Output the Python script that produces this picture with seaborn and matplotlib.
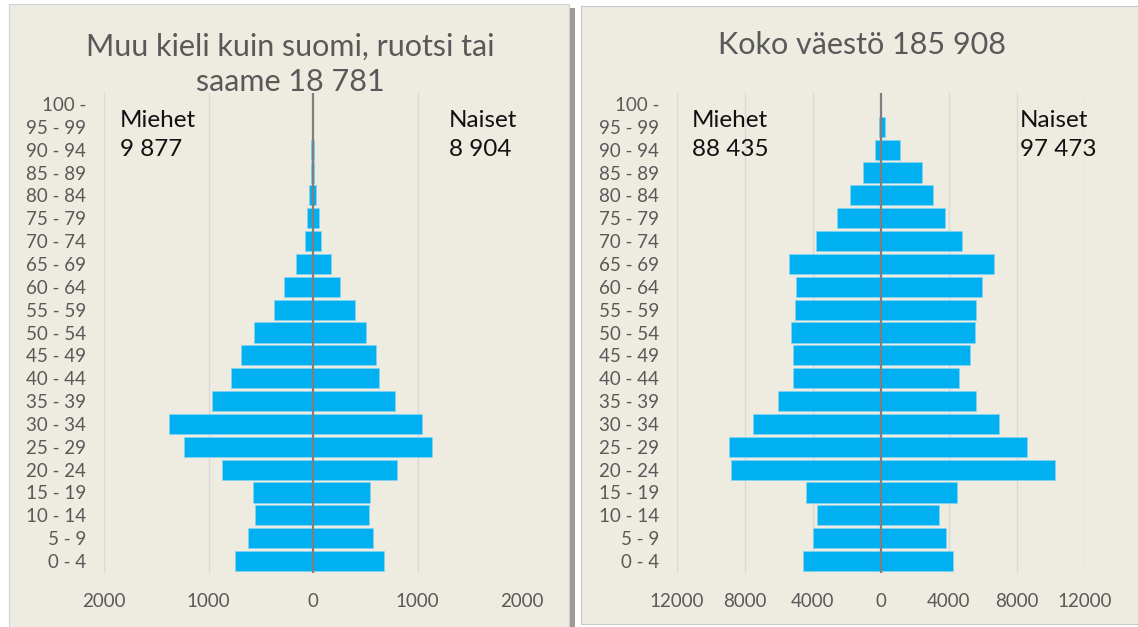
import matplotlib
matplotlib.use("Agg")
import matplotlib.pyplot as plt
import seaborn as sns
import pandas as pd
import numpy as np
from matplotlib.patches import Rectangle
from matplotlib.ticker import FuncFormatter, FixedLocator

sns.set_theme(style="white")
plt.rcParams['font.family'] = ['Lato', 'DejaVu Sans']

# ---------------- data ----------------
age_groups = ["100 -", "95 - 99", "90 - 94", "85 - 89", "80 - 84", "75 - 79",
              "70 - 74", "65 - 69", "60 - 64", "55 - 59", "50 - 54", "45 - 49",
              "40 - 44", "35 - 39", "30 - 34", "25 - 29", "20 - 24", "15 - 19",
              "10 - 14", "5 - 9", "0 - 4"]

# Other language than Finnish, Swedish or Sami
other_men = [0, 0, 15, 15, 39, 58, 77, 158, 280, 377, 567, 686, 786, 966,
             1375, 1230, 872, 572, 557, 624, 748]
other_women = [0, 0, 5, 10, 26, 61, 74, 171, 254, 399, 505, 603, 635, 786,
               1040, 1140, 805, 541, 535, 577, 682]

# Whole population
all_men = [0, 100, 352, 1035, 1797, 2598, 3848, 5391, 4981, 5040, 5274, 5196,
           5176, 6070, 7503, 8921, 8817, 4419, 3773, 4025, 4570]
all_women = [0, 254, 1133, 2403, 3086, 3750, 4785, 6641, 5958, 5567, 5528,
             5216, 4590, 5597, 6963, 8610, 10215, 4462, 3420, 3796, 4253]

titles = ["Muu kieli kuin suomi, ruotsi tai\nsaame 18 781", "Koko väestö 185 908"]
men_totals = ["9 877", "88 435"]
women_totals = ["8 904", "97 473"]
x_ticks_left = [-2000, -1000, 0, 1000, 2000]
x_ticks_right = [-12000, -8000, -4000, 0, 4000, 8000, 12000]

# ---------------- styling ----------------
W, H = 1138, 627
BLUE = "#00B0F0"
PANEL = "#EEEBE1"
GRID = "#D9D9D9"
TXT = "#595959"

fig = plt.figure(figsize=(W / 100, H / 100), dpi=100)
fig.patch.set_facecolor("white")


def px_rect(x0, y0, x1, y1, **kw):
    return Rectangle((x0 / W, 1 - y1 / H), (x1 - x0) / W, (y1 - y0) / H,
                     transform=fig.transFigure, zorder=-5, **kw)


# panel backgrounds
fig.patches.append(px_rect(9, 4, 569, 640, facecolor=PANEL, edgecolor="#D0D0D0", lw=0.8))
fig.patches.append(px_rect(570, 8, 575, 640, facecolor="#9A9A9A", edgecolor="none"))
fig.patches.append(px_rect(581, 6, 1150, 624, facecolor=PANEL, edgecolor="#C8C8C8", lw=0.8))


def make_panel(rect_px, men, women, ticks, xlim, title, title_y, title_x,
               mtot, wtot, mx, wx):
    x0, x1 = rect_px
    y0, y1 = 92.5, 572.5
    ax = fig.add_axes([x0 / W, 1 - y1 / H, (x1 - x0) / W, (y1 - y0) / H])
    ax.set_facecolor("none")
    ax.set_zorder(2)
    df = pd.DataFrame({
        "age": age_groups * 2,
        "value": [-v for v in men] + list(women),
        "sex": ["Miehet"] * len(age_groups) + ["Naiset"] * len(age_groups),
    })
    sns.barplot(data=df, x="value", y="age", hue="sex", order=age_groups,
                dodge=False, palette=[BLUE, BLUE], saturation=1, width=0.88,
                legend=False, edgecolor="#8AD6F3", linewidth=0.4, ax=ax,
                zorder=3)
    ax.set_xlim(*xlim)
    ax.set_ylim(len(age_groups) - 0.5, -0.5)
    ax.xaxis.set_major_locator(FixedLocator(ticks))
    ax.xaxis.set_major_formatter(FuncFormatter(lambda v, p: f"{abs(int(v))}"))
    for t in ticks:
        if t != 0:
            ax.axvline(t, color=GRID, lw=1.0, zorder=1)
    ax.axvline(0, color="#7F7F7F", lw=1.6, zorder=4)
    for s in ax.spines.values():
        s.set_visible(False)
    ax.set_xlabel("")
    ax.set_ylabel("")
    ax.tick_params(axis="x", length=0, pad=15, labelsize=13.5, labelcolor=TXT)
    ax.tick_params(axis="y", length=0, pad=13, labelsize=13.5, labelcolor=TXT)
    ax.grid(False)
    fig.text(title_x / W, 1 - title_y / H, title, ha="center", va="center",
             fontsize=22, color=TXT, linespacing=1.32)
    for xx, lab, tot in ((mx, "Miehet", mtot), (wx, "Naiset", wtot)):
        fig.text(xx / W, 1 - 121 / H, lab, ha="left", va="center",
                 fontsize=17.5, color="#111111")
        fig.text(xx / W, 1 - 150 / H, tot, ha="left", va="center",
                 fontsize=17.5, color="#111111")
    return ax


make_panel((104, 522), other_men, other_women, x_ticks_left, (-2000, 2000),
           titles[0], 64, 290, men_totals[0], women_totals[0], 120, 449)
make_panel((677, 1085), all_men, all_women, x_ticks_right, (-12000, 12000),
           titles[1], 45, 862, men_totals[1], women_totals[1], 692, 1020)

fig.savefig("out.png", dpi=100, facecolor="white")
